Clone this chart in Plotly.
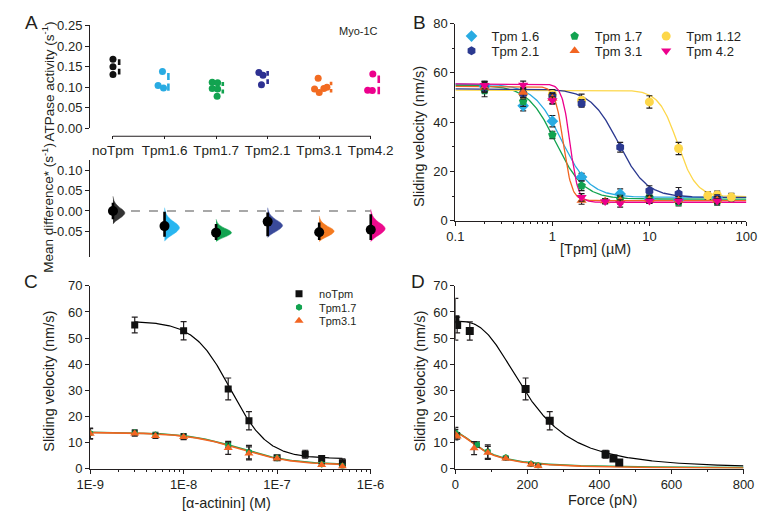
import numpy as np
import plotly.graph_objects as go

W, H = 771, 529
FONT = "Liberation Sans, Arial, Helvetica, sans-serif"
INK = "#231f20"


def fx(px):
    return px / W


def fy(py):
    return 1 - py / H


# ---------------- Panel A data ----------------
groups = ["noTpm", "Tpm1.6", "Tpm1.7", "Tpm2.1", "Tpm3.1", "Tpm4.2"]
colors_A = ["#111111", "#29abe2", "#12a350", "#2e3192", "#f26b21", "#ec008c"]
violin_colors = ["#333333", "#29b6f0", "#12a350", "#3a4a9a", "#f47a20", "#ec0a8c"]
atpase = [
    [0.168, 0.150, 0.131],
    [0.138, 0.104, 0.098],
    [0.112, 0.111, 0.097, 0.096, 0.078],
    [0.136, 0.129, 0.106],
    [0.122, 0.096, 0.087, 0.097, 0.100],
    [0.132, 0.093, 0.092],
]
swarm_offsets = [
    [0, 0, 0],
    [-0.04, -0.125, -0.02],
    [-0.075, 0.03, -0.075, 0.03, 0.02],
    [-0.17, -0.09, -0.12],
    [-0.02, -0.09, 0.0, 0.09, 0.15],
    [0.04, -0.06, 0.03],
]
gapline_offsets = [0.12, 0.075, 0.13, 0.0, 0.23, 0.155]

mean_diff = [0.0, -0.037, -0.053, -0.026, -0.052, -0.046]
ci_low = [-0.02, -0.063, -0.071, -0.062, -0.071, -0.071]
ci_high = [0.02, -0.002, -0.032, -0.004, -0.028, -0.008]
dist_low = [-0.032, -0.074, -0.075, -0.065, -0.075, -0.075]
dist_high = [0.036, 0.008, -0.020, 0.008, -0.012, 0.004]
violin_width = [0.23, 0.29, 0.30, 0.29, 0.29, 0.28]
violin_profile = [0, 0.22, 0.55, 0.85, 1.0, 0.86, 0.55, 0.3, 0.13, 0.05, 0]

# ---------------- Panel B data ----------------
b_names = ["Tpm 1.6", "Tpm 1.7", "Tpm 1.12", "Tpm 2.1", "Tpm 3.1", "Tpm 4.2"]
b_colors = ["#29abe2", "#12a350", "#fdd74a", "#2b3990", "#f26522", "#ec008c"]
b_symbols = ["diamond", "pentagon", "circle", "hexagon", "triangle-up", "triangle-down"]
b_x = [
    [0.2, 0.5, 1, 2, 5, 10, 20, 50],
    [0.2, 0.5, 1, 2, 5, 10, 20, 50],
    [0.5, 1, 2, 10, 20, 40, 50, 70],
    [0.2, 0.5, 1, 2, 5, 10, 20, 50],
    [0.2, 0.5, 1, 2, 3.5, 5, 10, 20, 50],
    [0.2, 0.5, 1, 2, 3.5, 5, 10, 20, 50],
]
b_y = [
    [54.5, 46.6, 40.4, 17.7, 10.9, 9.0, 8.5, 9.5],
    [52.8, 48.4, 34.8, 14.2, 8.8, 9.5, 7.5, 7.8],
    [51.4, 51.2, 48.9, 48.2, 29.3, 10.2, 10.5, 9.6],
    [54.0, 51.5, 50.5, 47.6, 29.8, 12.2, 11.0, 9.0],
    [54.0, 52.0, 49.6, 8.2, 8.0, 8.2, 8.5, 8.3, 8.3],
    [55.0, 55.1, 48.8, 9.5, 7.8, 7.0, 8.0, 8.0, 8.0],
]
b_err = [
    [2.0, 2.0, 2.3, 1.5, 2.0, 1.5, 1.5, 1.5],
    [2.5, 2.0, 1.5, 2.0, 1.5, 1.5, 1.5, 1.5],
    [2.0, 2.0, 2.5, 2.5, 2.5, 1.5, 1.5, 1.5],
    [1.5, 1.5, 1.5, 1.5, 2.0, 2.0, 2.5, 1.5],
    [2.0, 2.0, 2.0, 1.5, 1.0, 1.5, 1.5, 1.5, 1.5],
    [1.5, 1.5, 1.5, 1.5, 1.0, 1.5, 1.0, 1.0, 1.0],
]
# Hill fit parameters (top, bottom, K, n)
b_fit = [
    (55.5, 9.5, 1.25, 3.0),
    (55.0, 8.8, 1.08, 3.0),
    (53.0, 9.8, 19.5, 4.5),
    (53.5, 9.5, 4.8, 3.0),
    (54.5, 8.2, 1.30, 10.0),
    (55.5, 7.5, 1.52, 10.5),
]

# ---------------- Panel C data ----------------
c_x_noTpm = [3e-9, 1e-8, 3e-8, 5e-8, 1e-7, 2e-7, 3e-7, 5e-7]
c_y_noTpm = [55.0, 52.8, 30.5, 18.3, 4.1, 5.5, 3.8, 2.2]
c_e_noTpm = [3.0, 3.5, 4.2, 3.5, 0.8, 1.5, 1.0, 1.5]
c_x_tpm = [1e-9, 3e-9, 5e-9, 1e-8, 3e-8, 5e-8, 1e-7, 3e-7, 5e-7]
c_y_17 = [13.5, 13.8, 12.9, 12.4, 9.0, 6.3, 4.0, 1.6, 1.0]
c_e_17 = [2.0, 1.0, 1.0, 1.0, 1.0, 2.6, 0.5, 0.5, 0.5]
c_y_31 = [13.3, 13.4, 12.5, 12.1, 7.9, 5.8, 3.8, 1.4, 0.8]
c_e_31 = [2.0, 1.0, 1.0, 1.0, 2.5, 2.5, 0.5, 0.5, 0.5]
c_fit_noTpm = (56.5, 3.8, 3.2e-8, 2.2)
c_fit_tpm = (13.8, 1.3, 4.0e-8, 1.5)

# ---------------- Panel D data ----------------
d_x_noTpm = [0, 5, 40, 195, 262, 417, 439, 455]
d_y_noTpm = [57.2, 55.0, 52.7, 30.5, 18.3, 5.5, 3.8, 2.3]
d_e_noTpm = [8.0, 3.0, 3.5, 4.2, 3.5, 1.5, 1.0, 0.5]
d_x_17 = [0, 5, 60, 90, 140, 210, 230]
d_y_17 = [13.8, 12.8, 9.2, 6.5, 4.2, 1.8, 1.2]
d_e_17 = [2.0, 1.0, 1.0, 2.6, 0.5, 0.5, 0.5]
d_x_31 = [0, 5, 52, 90, 140, 210, 230]
d_y_31 = [13.0, 12.3, 7.8, 6.0, 3.8, 1.5, 0.9]
d_e_31 = [2.0, 1.0, 2.5, 2.5, 0.5, 0.5, 0.5]
d_fit_noTpm = (56.5, 0.0, 200.0, 2.9)
d_fit_tpm = (13.6, 0.0, 80.0, 1.8)

c_names = ["noTpm", "Tpm1.7", "Tpm3.1"]
c_colors = ["#111111", "#12a350", "#f26522"]
c_symbols = ["square", "hexagon", "triangle-up"]


def hill(x, p):
    top, bot, k, n = p
    x = np.asarray(x, dtype=float)
    return bot + (top - bot) / (1 + (x / k) ** n)


fig = go.Figure()

# ---------- A top: swarm + gapped mean±sd ----------
for i, g in enumerate(groups):
    xs = [i + o for o in swarm_offsets[i]]
    fig.add_trace(go.Scatter(
        x=xs, y=atpase[i], mode="markers", xaxis="x", yaxis="y",
        marker=dict(color=colors_A[i], size=7), showlegend=False, hoverinfo="skip"))
    m = float(np.mean(atpase[i]))
    s = float(np.std(atpase[i], ddof=1))
    gap = 0.0045
    xo = i + gapline_offsets[i]
    fig.add_trace(go.Scatter(
        x=[xo, xo, None, xo, xo], y=[m - s, m - gap, None, m + gap, m + s],
        mode="lines", xaxis="x", yaxis="y",
        line=dict(color=colors_A[i], width=2.6), showlegend=False, hoverinfo="skip"))

# ---------- A bottom: half violins + mean difference ----------
for i, g in enumerate(groups):
    lo, hi = dist_low[i], dist_high[i]
    nprof = len(violin_profile)
    ys = [lo + (hi - lo) * k / (nprof - 1) for k in range(nprof)]
    xs = [i + violin_width[i] * w for w in violin_profile]
    fig.add_trace(go.Scatter(
        x=[i] + xs + [i], y=[lo] + ys + [hi], mode="lines", fill="toself",
        fillcolor=violin_colors[i], line=dict(color=violin_colors[i], width=0.5, shape="spline"),
        xaxis="x2", yaxis="y2", showlegend=False, hoverinfo="skip"))
for i, g in enumerate(groups):
    fig.add_trace(go.Scatter(
        x=[i, i], y=[ci_low[i], ci_high[i]], mode="lines", xaxis="x2", yaxis="y2",
        line=dict(color="black", width=2.6), showlegend=False, hoverinfo="skip"))
fig.add_trace(go.Scatter(
    x=list(range(len(groups))), y=mean_diff, mode="markers", xaxis="x2", yaxis="y2",
    marker=dict(color="black", size=10), showlegend=False, hoverinfo="skip"))

# ---------- B ----------
xb = np.logspace(-1, 2, 400)
for i in range(6):
    fig.add_trace(go.Scatter(
        x=xb, y=hill(xb, b_fit[i]), mode="lines", xaxis="x3", yaxis="y3",
        line=dict(color=b_colors[i], width=1.3), showlegend=False, hoverinfo="skip"))
b_legends = ["legend", "legend2", "legend3", "legend4", "legend5", "legend6"]
for i in range(6):
    fig.add_trace(go.Scatter(
        x=b_x[i], y=b_y[i], mode="markers", name=b_names[i], xaxis="x3", yaxis="y3",
        marker=dict(color=b_colors[i], symbol=b_symbols[i], size=9),
        error_y=dict(type="data", array=b_err[i], color=INK, thickness=1.2, width=3),
        legend=b_legends[i], showlegend=True))

# ---------- C ----------
xc1 = np.logspace(np.log10(3e-9), np.log10(5e-7), 300)
xc2 = np.logspace(-9, np.log10(5e-7), 300)
fig.add_trace(go.Scatter(x=xc1, y=hill(xc1, c_fit_noTpm), mode="lines", xaxis="x4", yaxis="y4",
                         line=dict(color="black", width=1.2), showlegend=False, hoverinfo="skip"))
fig.add_trace(go.Scatter(x=xc2, y=hill(xc2, c_fit_tpm) + 0.15, mode="lines", xaxis="x4", yaxis="y4",
                         line=dict(color=c_colors[1], width=1.6), showlegend=False, hoverinfo="skip"))
fig.add_trace(go.Scatter(x=xc2, y=hill(xc2, c_fit_tpm), mode="lines", xaxis="x4", yaxis="y4",
                         line=dict(color=c_colors[2], width=1.6), showlegend=False, hoverinfo="skip"))
c_sets = [(c_x_noTpm, c_y_noTpm, c_e_noTpm), (c_x_tpm, c_y_17, c_e_17), (c_x_tpm, c_y_31, c_e_31)]
c_sizes = [7, 7, 8]
c_legends = ["legend7", "legend8", "legend9"]
for i in range(3):
    xx, yy, ee = c_sets[i]
    fig.add_trace(go.Scatter(
        x=xx, y=yy, mode="markers", name=c_names[i], xaxis="x4", yaxis="y4",
        marker=dict(color=c_colors[i], symbol=c_symbols[i], size=c_sizes[i]),
        error_y=dict(type="data", array=ee, color=INK, thickness=1.2, width=3),
        legend=c_legends[i], showlegend=True))

# ---------- D ----------
xd = np.linspace(0, 800, 400)
fig.add_trace(go.Scatter(x=xd, y=hill(xd, d_fit_noTpm), mode="lines", xaxis="x5", yaxis="y5",
                         line=dict(color="black", width=1.2), showlegend=False, hoverinfo="skip"))
fig.add_trace(go.Scatter(x=xd, y=hill(xd, d_fit_tpm) + 0.15, mode="lines", xaxis="x5", yaxis="y5",
                         line=dict(color=c_colors[1], width=1.6), showlegend=False, hoverinfo="skip"))
fig.add_trace(go.Scatter(x=xd, y=hill(xd, d_fit_tpm), mode="lines", xaxis="x5", yaxis="y5",
                         line=dict(color=c_colors[2], width=1.6), showlegend=False, hoverinfo="skip"))
d_sets = [(d_x_noTpm, d_y_noTpm, d_e_noTpm), (d_x_17, d_y_17, d_e_17), (d_x_31, d_y_31, d_e_31)]
d_sizes = [8, 7, 8]
for i in range(3):
    xx, yy, ee = d_sets[i]
    fig.add_trace(go.Scatter(
        x=xx, y=yy, mode="markers", xaxis="x5", yaxis="y5",
        marker=dict(color=c_colors[i], symbol=c_symbols[i], size=d_sizes[i]),
        error_y=dict(type="data", array=ee, color=INK, thickness=1.2, width=3),
        showlegend=False, hoverinfo="skip"))

# ---------- Layout ----------
TICKF = dict(family=FONT, size=13, color=INK)
common_axis = dict(showgrid=False, zeroline=False, linecolor=INK, linewidth=1.2,
                   ticks="outside", ticklen=4, tickwidth=1.2, tickcolor=INK, tickfont=TICKF)

catpos_min = (79 - 102.7) / 53.5
catpos_max = (390 - 102.7) / 53.5

layout = dict(
    width=W, height=H, margin=dict(l=0, r=0, t=0, b=0),
    paper_bgcolor="white", plot_bgcolor="rgba(0,0,0,0)",
    font=dict(family=FONT, color=INK),
    xaxis=dict(domain=[fx(79), fx(390)], range=[catpos_min, catpos_max], anchor="free",
               position=fy(132), showline=False, showgrid=False, zeroline=False,
               tickvals=list(range(len(groups))), ticktext=groups, ticks="outside",
               ticklen=3, tickwidth=1.2, tickcolor=INK,
               tickfont=dict(family=FONT, size=13.5, color=INK)),
    yaxis=dict(domain=[fy(125), fy(19)], range=[0, 0.25], anchor="x", showline=True,
               tickvals=[0, 0.05, 0.10, 0.15, 0.20, 0.25],
               ticktext=["0.00", "0.05", "0.10", "0.15", "0.20", "0.25"], **common_axis),
    xaxis2=dict(domain=[fx(79), fx(390)], range=[catpos_min, catpos_max], anchor="y2", visible=False),
    yaxis2=dict(domain=[fy(257), fy(157)], range=[-0.112, 0.126], anchor="x2", showline=True,
                tickvals=[-0.05, 0, 0.05, 0.10], ticktext=["-0.05", "0.00", "0.05", "0.10"],
                **common_axis),
    xaxis3=dict(domain=[fx(458), fx(760)], type="log", range=[-1, 2], anchor="y3", showline=True,
                tickvals=[0.1, 1, 10, 100], ticktext=["0.1", "1", "10", "100"],
                minor=dict(ticks="outside", ticklen=2.5, tickcolor=INK, dtick="D1", showgrid=False),
                **common_axis),
    yaxis3=dict(domain=[fy(220), fy(17)], range=[0, 80], anchor="x3", showline=True,
                tickvals=[0, 20, 40, 60, 80],
                minor=dict(ticks="outside", ticklen=2.5, tickcolor=INK, dtick=10, showgrid=False),
                **common_axis),
    xaxis4=dict(domain=[fx(79), fx(370)], type="log", range=[-9, -6], anchor="y4", showline=True,
                tickvals=[1e-9, 1e-8, 1e-7, 1e-6], ticktext=["1E-9", "1E-8", "1E-7", "1E-6"],
                minor=dict(ticks="outside", ticklen=2.5, tickcolor=INK, dtick="D1", showgrid=False),
                **common_axis),
    yaxis4=dict(domain=[fy(475), fy(287)], range=[0, 70], anchor="x4", showline=True,
                tickvals=[0, 10, 20, 30, 40, 50, 60, 70], **common_axis),
    xaxis5=dict(domain=[fx(458), fx(757)], range=[0, 800], anchor="y5", showline=True,
                tickvals=[0, 200, 400, 600, 800],
                minor=dict(ticks="outside", ticklen=2.5, tickcolor=INK, dtick=100, showgrid=False),
                **common_axis),
    yaxis5=dict(domain=[fy(475), fy(287)], range=[0, 70], anchor="x5", showline=True,
                tickvals=[0, 10, 20, 30, 40, 50, 60, 70], **common_axis),
)

LEG_OFF = 24
b_leg_pos = [(478, 30), (585, 30), (680, 30), (478, 45), (585, 45), (680, 45)]
for i, key in enumerate(b_legends):
    mx, my = b_leg_pos[i]
    layout[key] = dict(x=fx(mx - LEG_OFF), y=fy(my), xanchor="left", yanchor="middle",
                       bgcolor="rgba(0,0,0,0)", borderwidth=0,
                       font=dict(family=FONT, size=13, color=INK))
c_leg_pos = [(299, 295), (299, 309), (299, 323)]
for i, key in enumerate(c_legends):
    mx, my = c_leg_pos[i]
    layout[key] = dict(x=fx(mx - LEG_OFF), y=fy(my), xanchor="left", yanchor="middle",
                       bgcolor="rgba(0,0,0,0)", borderwidth=0,
                       font=dict(family=FONT, size=11, color=INK))

fig.update_layout(**layout)

# shapes: A top category axis line and zero reference line in A bottom
fig.add_shape(type="line", xref="x", yref="paper", x0=0, x1=len(groups) - 1,
              y0=fy(133), y1=fy(133), line=dict(color=INK, width=1.2))
fig.add_shape(type="line", xref="x2", yref="y2", x0=0, x1=len(groups) - 1, y0=0, y1=0,
              line=dict(color="#8c8c8c", width=1.5, dash="dash"), layer="below")


def ann(text, px, py, size, angle=0, **kw):
    fig.add_annotation(text=text, x=fx(px), y=fy(py), xref="paper", yref="paper",
                       showarrow=False, textangle=angle, xanchor="center", yanchor="middle",
                       font=dict(family=FONT, size=size, color=INK), **kw)


ann("A", 18, 16, 19)
ann("B", 421, 16, 19)
ann("C", 18, 283, 19)
ann("D", 419, 282, 19)
ann("Myo-1C", 357, 25, 11)
ann("ATPase activity (s<sup>-1</sup>)", 35, 77, 13.5, -90)
ann("Mean difference* (s<sup>-1</sup>)", 35, 207, 13.5, -90)
ann("Sliding velocity (nm/s)", 421, 133, 14.5, -90)
ann("[Tpm] (µM)", 603, 249, 14.5)
ann("Sliding velocity (nm/s)", 36, 385, 14.5, -90)
ann("[α-actinin] (M)", 220, 510, 14.5)
ann("Sliding velocity (nm/s)", 421, 385, 14.5, -90)
ann("Force (pN)", 611, 507, 14.5)

fig.write_html("out.html")
